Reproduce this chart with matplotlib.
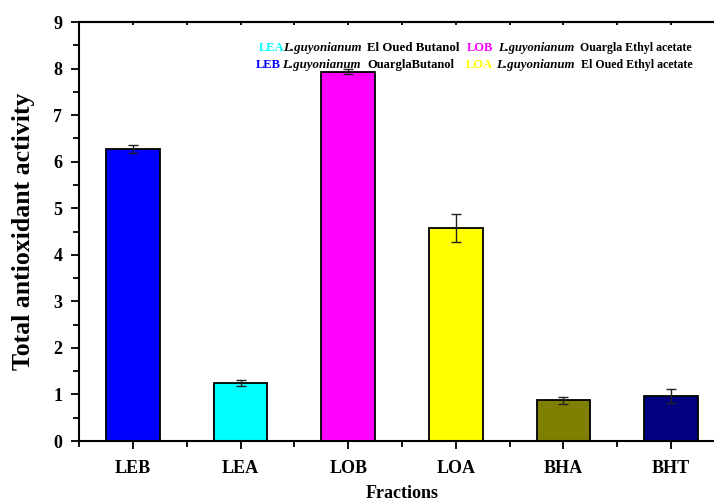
import matplotlib
matplotlib.use("Agg")
import matplotlib.pyplot as plt
from matplotlib.ticker import MultipleLocator

# Fractions and their total antioxidant activity (mean ± SD)
fractions = ["LEB", "LEA", "LOB", "LOA", "BHA", "BHT"]
activity = [6.27, 1.25, 7.93, 4.58, 0.87, 0.96]
errors = [0.09, 0.07, 0.05, 0.30, 0.08, 0.15]
bar_colors = ["#0000FF", "#00FFFF", "#FF00FF", "#FFFF00", "#808000", "#000080"]

W, H = 714, 503
fig = plt.figure(figsize=(W / 100, H / 100), dpi=100)
ax = fig.add_axes([79 / W, 62 / H, (725 - 79) / W, (441 - 22) / H])

serif = ["Liberation Serif", "DejaVu Serif"]

x = list(range(1, len(fractions) + 1))
ax.bar(x, activity, width=0.5, color=bar_colors, edgecolor="black", linewidth=1.3, zorder=2)
ax.errorbar(x, activity, yerr=errors, fmt="none", ecolor="#222222", elinewidth=1.0,
            capsize=3.8, capthick=1.0, zorder=3)

ax.set_xlim(0.5, 6.5)
ax.set_ylim(0, 9)
ax.set_xticks(x)
ax.set_xticklabels(fractions, fontfamily=serif, fontweight="bold", fontsize=13)
ax.xaxis.set_minor_locator(MultipleLocator(1.0, offset=0.5))
ax.yaxis.set_major_locator(MultipleLocator(1))
ax.yaxis.set_minor_locator(MultipleLocator(0.5))
for lbl in ax.get_yticklabels():
    lbl.set_fontfamily(serif)
    lbl.set_fontweight("bold")
    lbl.set_fontsize(13)

ax.tick_params(axis="x", which="major", direction="out", length=6, width=1.3, pad=8)
ax.tick_params(axis="x", which="minor", direction="out", length=4, width=1.3)
ax.tick_params(axis="y", which="major", direction="out", length=6, width=1.3, pad=6)
ax.tick_params(axis="y", which="minor", direction="out", length=4, width=1.3)

# short inward ticks along the top frame
top = ax.secondary_xaxis("top")
top.set_xticks(x)
top.xaxis.set_minor_locator(MultipleLocator(1.0, offset=0.5))
top.tick_params(which="both", direction="in", length=2, width=1.3, labeltop=False)
top.spines["top"].set_linewidth(1.5)

for side in ["left", "bottom", "top"]:
    ax.spines[side].set_linewidth(1.5)
ax.spines["right"].set_visible(False)

ax.set_ylabel("Total antioxidant activity", fontfamily=serif, fontweight="bold", fontsize=18.5, labelpad=13)
ax.set_xlabel("Fractions", fontfamily=serif, fontweight="bold", fontsize=13, va="center")
ax.xaxis.set_label_coords((402 - 79) / (725 - 79), -(494 - 441) / (441 - 22))


def fig_text(px, py, s, color="black", style="normal", size=9.0):
    fig.text(px / W, 1 - py / H, s, color=color, fontstyle=style, fontweight="bold",
             fontfamily=serif, fontsize=size, ha="left", va="center")


# Legend describing the fraction codes
fig_text(259, 48, "LEA", color="#00FFFF")
fig_text(283, 48, "L.guyonianum", style="italic", size=9.3)
fig_text(367, 48, "El Oued Butanol", size=9.3)
fig_text(467, 48, "LOB", color="#FF00FF")
fig_text(498, 48, "L.guyonianum", style="italic")
fig_text(580, 48, "Ouargla Ethyl acetate", size=8.6)
fig_text(256, 65, "LEB", color="#0000FF")
fig_text(282, 65, "L.guyonianum", style="italic", size=9.3)
fig_text(367, 65, "OuarglaButanol")
fig_text(466, 65, "LOA", color="#FFFF00")
fig_text(496, 65, "L.guyonianum", style="italic", size=9.3)
fig_text(581, 65, "El Oued Ethyl acetate", size=8.6)

fig.savefig("out.png", dpi=100)
